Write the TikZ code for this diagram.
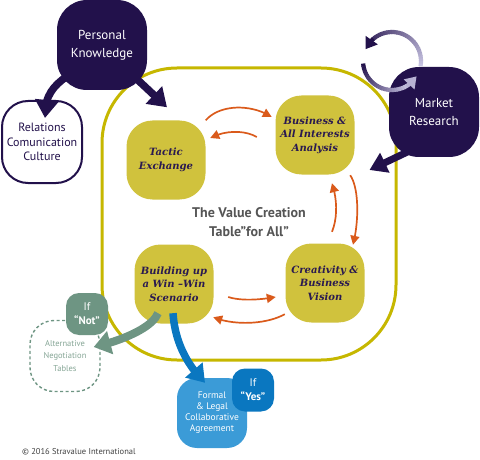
\documentclass[tikz,border=0pt]{standalone}
\usepackage{fontspec}
\setmainfont{DejaVu Serif}
\newfontfamily\dinfont{PT Sans}
\newfontfamily\serfont{DejaVu Serif}
\usetikzlibrary{arrows.meta,calc,bending}
\definecolor{navy}{HTML}{22114B}
\definecolor{yfill}{HTML}{D0C23D}
\definecolor{ytext}{HTML}{2A1A50}
\definecolor{framecol}{HTML}{C6B700}
\definecolor{orng}{HTML}{DA5A1B}
\definecolor{sage}{HTML}{6E9583}
\definecolor{sagetext}{HTML}{86A696}
\definecolor{lblue}{HTML}{3B9BD7}
\definecolor{dblue}{HTML}{0A77C0}
\definecolor{lav}{HTML}{C8C4E2}
\definecolor{titlegray}{HTML}{555555}
\begin{document}
\begin{tikzpicture}[x=1pt,y=1pt,
  navybox/.style={fill=navy, rounded corners=30pt, minimum width=90pt, minimum height=90pt, text=white, font=\dinfont\fontsize{13}{18}\selectfont, align=center, inner sep=0pt},
  ybox/.style={fill=yfill, rounded corners=26pt, minimum width=79pt, minimum height=79pt, text=ytext, font=\serfont\bfseries\itshape\fontsize{10}{13.5}\selectfont, align=center, inner sep=0pt},
  tablebox/.style={draw=framecol, line width=3pt, rounded corners=75pt, minimum width=294pt, minimum height=292pt, inner sep=0pt},
  relbox/.style={draw=navy, line width=2pt, fill=white, rounded corners=26pt, minimum width=80pt, minimum height=82pt, text=navy, font=\dinfont\fontsize{12}{14.7}\selectfont, align=center, inner sep=0pt},
  ifbox/.style={rounded corners=13pt, minimum width=42pt, minimum height=42pt, text=white, font=\dinfont\fontsize{11}{14}\selectfont, align=center, inner sep=0pt},
  altbox/.style={draw=sage, dashed, dash pattern=on 3pt off 2.5pt, line width=1.4pt, fill=white, rounded corners=24pt, minimum width=70pt, minimum height=71pt, text=sagetext, font=\dinfont\fontsize{8.5}{12.5}\selectfont, align=center, inner sep=0pt},
  formalbox/.style={fill=lblue, rounded corners=20pt, minimum width=70pt, minimum height=70pt, text=white, font=\dinfont\fontsize{9.5}{11}\selectfont, align=center, inner sep=0pt},
  orarrow/.style={draw=orng, line width=1.7pt, -{Triangle[width=9pt,length=9pt]}},
  navyarrow/.style={draw=navy, line width=7.5pt, -{Triangle[width=23pt,length=18pt]}},
  greenarrow/.style={draw=sage, line width=8pt, -{Triangle[width=23pt,length=17pt]}},
  bluearrow/.style={draw=dblue, line width=7.5pt, -{Triangle[width=22pt,length=17pt]}},
  loopseg/.style={line width=4.2pt, line cap=butt}
]
\useasboundingbox (0,0) rectangle (480,-460);

% value creation table frame
\node[tablebox] (tbl) at (249,-214) {};
\node[font=\dinfont\bfseries\fontsize{14}{19}\selectfont, text=titlegray, align=center] (title) at (249,-222) {The Value Creation\\Table”for All”};

% yellow steps
\node[ybox] (te) at (166,-160) {Tactic\\Exchange};
\node[ybox] (ba) at (315,-135) {Business \&\\All Interests\\Analysis};
\node[ybox] (cb) at (325,-283) {Creativity \&\\Business\\Vision};
\node[ybox] (bw) at (174,-284) {Building up\\a Win –Win\\Scenario};

% orange cycle arrows
\draw[orarrow] (te.north east) .. controls +(14.5,16.5) and +(-20,13) .. ([shift={(-3.5,18)}]ba.west);
\draw[orarrow] ([shift={(-18.5,-2)}]ba.west) .. controls +(-12,7) and +(15,8) .. ([shift={(4.5,22)}]te.east);
\draw[orarrow] ([shift={(7,11.5)}]cb.north) .. controls +(6,15) and +(5,-15) .. ([shift={(17,-8.5)}]ba.south);
\draw[orarrow] ([shift={(-4.5,-0.5)}]ba.south east) .. controls +(9,-13) and +(6,23) .. ([shift={(28,-1.5)}]cb.north);
\draw[orarrow] ([shift={(14.5,-13)}]bw.east) .. controls +(12,-4) and +(-16,-3) .. ([shift={(-9.5,-14)}]cb.west);
\draw[orarrow] ([shift={(-0.5,8.5)}]cb.south west) .. controls +(-20,-11) and +(19,-8) .. ([shift={(-0.5,6.5)}]bw.south east);

% navy nodes
\node[relbox] (rel) at (42,-142) {Relations\\Comunication\\Culture};
\node[navybox] (pk) at (102,-45) {Personal\\Knowledge};
\node[navybox] (mr) at (434,-112) {Market\\Research};

\draw[navyarrow] ($(pk.center)!0.5!(pk.south east)$) -- ([shift={(1,13)}]te.north);
\draw[navyarrow] ($(pk.center)!0.55!(pk.south west)$) .. controls +(-20,-12) and +(-1,26) .. ([shift={(3,-18)}]rel.north);
\draw[navyarrow, line width=7pt, -{Triangle[width=21pt,length=17pt]}] ([shift={(-14,-34)}]mr.center) -- ([shift={(-28,44)}]tbl.east);

% outcomes
\node[altbox] (alt) at (65,-356) {Alternative\\Negotiation\\Tables};
\node[formalbox] (formal) at (212,-413) {Formal\\\& Legal\\Collaborative\\Agreement};

\draw[greenarrow] ([shift={(-16,10.5)}]bw.south) .. controls +(-6,-15) and +(27,6) .. ([shift={(-7,9)}]alt.east);
\draw[bluearrow] ([shift={(-1,10.5)}]bw.south) .. controls +(2,-30) and +(-17,17) .. ([shift={(-7,-5)}]formal.north);

\node[ifbox, fill=sage] (ifnot) at (87,-314) {If\\\textbf{“Not”}};
\node[ifbox, fill=dblue, minimum height=43pt] (ifyes) at (253,-390) {If\\\textbf{“Yes”}};

\node[anchor=west, font=\dinfont\fontsize{8.5}{10}\selectfont, text=black!75, inner sep=0pt] (copy) at (22,-452) {© 2016 Stravalue International};

% research loop (drawn last, over the Market Research box)
\coordinate (loopc) at (392,-61);
\foreach \a in {-10,-5,...,125} {
  \pgfmathtruncatemacro\p{(156-\a)/166*100}
  \draw[loopseg, draw=lav!\p!navy] ([shift={(\a:29)}]loopc) arc[start angle=\a, end angle=\a+6, radius=29];
}
\draw[loopseg, draw=navy, -{Triangle[width=14pt,length=11pt]}] ([shift={(130:29)}]loopc) arc[start angle=130, end angle=156, radius=29];
\foreach \b in {185,190,...,295} {
  \pgfmathtruncatemacro\q{(\b-185)/115*100}
  \draw[loopseg, draw=lav!\q!navy] ([shift={(\b:29)}]loopc) arc[start angle=\b, end angle=\b+6, radius=29];
}
\draw[loopseg, draw=lav!90!navy, -{Triangle[width=14pt,length=11pt]}] ([shift={(300:29)}]loopc) arc[start angle=300, end angle=328, radius=29];
\end{tikzpicture}
\end{document}
